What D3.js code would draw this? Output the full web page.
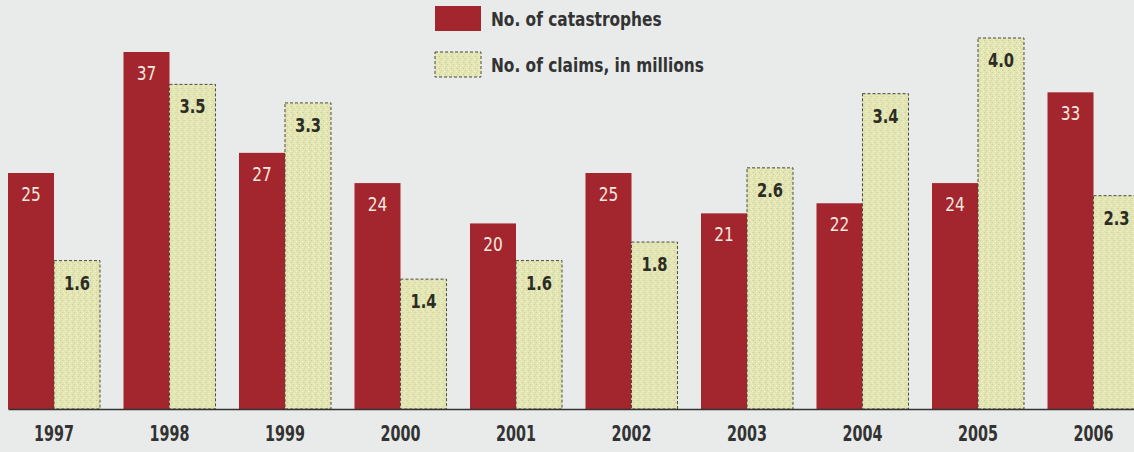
<!DOCTYPE html>
<html>
<head>
<meta charset="utf-8">
<script src="https://cdn.jsdelivr.net/npm/d3@7"></script>
<style>
  html, body { margin: 0; padding: 0; background: #e8ebea; }
  svg { display: block; }
  text { font-family: "Liberation Sans Narrow", "DejaVu Sans Condensed", "Roboto", sans-serif; }
</style>
</head>
<body>
<svg id="chart"></svg>
<script>
const years = ['1997', '1998', '1999', '2000', '2001', '2002', '2003', '2004', '2005', '2006'];
const catastrophes = [25, 37, 27, 24, 20, 25, 21, 22, 24, 33];
const claims = [1.6, 3.5, 3.3, 1.4, 1.6, 1.8, 2.6, 3.4, 4.0, 2.3];
const seriesNames = ['No. of catastrophes', 'No. of claims, in millions'];

const width = 1134;
const height = 452;
const baseY = 409;

const red = '#a3252d';
const cream = '#e3e5b3';

let svg = d3.select('#chart').attr('width', width).attr('height', height);

// stipple texture for the claims bars
const defs = svg.append('defs');
const pat = defs.append('pattern')
    .attr('id', 'stipple')
    .attr('patternUnits', 'userSpaceOnUse')
    .attr('width', 6).attr('height', 6);
pat.append('rect').attr('width', 6).attr('height', 6).attr('fill', cream);
[[0, 0, '#cdd09e'], [3, 1, '#f3f3d6'], [1, 3, '#f1f2d2'], [4, 4, '#c8cb98'], [5, 2, '#d6d8a8'], [2, 5, '#eeefcc']]
    .forEach(p => pat.append('rect').attr('x', p[0]).attr('y', p[1]).attr('width', 1).attr('height', 1).attr('fill', p[2]));

const x0 = d3.scaleBand()
    .domain(years)
    .range([8, 1139.5])
    .paddingInner(0.2035)
    .paddingOuter(0);

const x1 = d3.scaleBand()
    .domain(['cat', 'claims'])
    .range([0, x0.bandwidth()]);

// the original drawing does not start at zero for the red bars
const yCat = d3.scaleLinear().domain([1.6, 37]).range([baseY, 52]);
const yClaims = d3.scaleLinear().domain([0, 4]).range([baseY, 38]);

const data = years.map((y, i) => ({ year: y, cat: catastrophes[i], claims: claims[i] }));

const groups = svg.selectAll('g.year')
    .data(data)
    .join('g')
    .attr('class', 'year')
    .attr('transform', d => `translate(${x0(d.year)},0)`);

groups.append('rect')
    .attr('x', x1('cat'))
    .attr('y', d => yCat(d.cat))
    .attr('width', x1.bandwidth())
    .attr('height', d => baseY - yCat(d.cat))
    .attr('fill', red);

groups.append('rect')
    .attr('x', x1('claims'))
    .attr('y', d => yClaims(d.claims))
    .attr('width', x1.bandwidth())
    .attr('height', d => baseY - yClaims(d.claims))
    .attr('fill', 'url(#stipple)')
    .attr('stroke', '#4a4a40')
    .attr('stroke-width', 1)
    .attr('stroke-dasharray', '3,2');

// narrow the fallback font so it looks like the condensed face of the original
groups.append('text')
    .attr('transform', d => `translate(${x1('cat') + x1.bandwidth() / 2},${yCat(d.cat) + 28}) scale(0.9,1)`)
    .attr('text-anchor', 'middle')
    .style('font-size', '19px')
    .style('fill', '#f6e9e0')
    .text(d => d.cat);

groups.append('text')
    .attr('transform', d => `translate(${x1('claims') + x1.bandwidth() / 2},${yClaims(d.claims) + 29}) scale(0.82,1)`)
    .attr('text-anchor', 'middle')
    .style('font-size', '20px')
    .style('font-weight', 'bold')
    .style('fill', '#2b2c24')
    .text(d => d3.format('.1f')(d.claims));

// x axis
const axis = svg.append('g')
    .attr('transform', `translate(0,${baseY})`)
    .call(d3.axisBottom(x0).tickSize(0).tickPadding(17));
axis.select('.domain').attr('stroke', '#333').attr('stroke-width', 1.6);
axis.selectAll('text')
    .attr('transform', 'scale(0.76,1)')
    .style('font-size', '21px')
    .style('font-weight', 'bold')
    .style('fill', '#333')
    .style('font-family', '"Liberation Sans Narrow", "DejaVu Sans Condensed", sans-serif');

// legend
const legend = svg.append('g').attr('transform', 'translate(435,6)');
seriesNames.forEach((name, i) => {
    const row = legend.append('g').attr('transform', `translate(0,${i * 46})`);
    row.append('rect')
        .attr('width', 46).attr('height', 25)
        .attr('fill', i === 0 ? red : 'url(#stipple)')
        .attr('stroke', i === 0 ? 'none' : '#4a4a40')
        .attr('stroke-dasharray', '3,2');
    row.append('text')
        .attr('transform', 'translate(56,20) scale(0.9,1)')
        .style('font-size', '19px')
        .style('font-weight', 'bold')
        .style('fill', '#333')
        .text(name);
});
</script>
</body>
</html>
